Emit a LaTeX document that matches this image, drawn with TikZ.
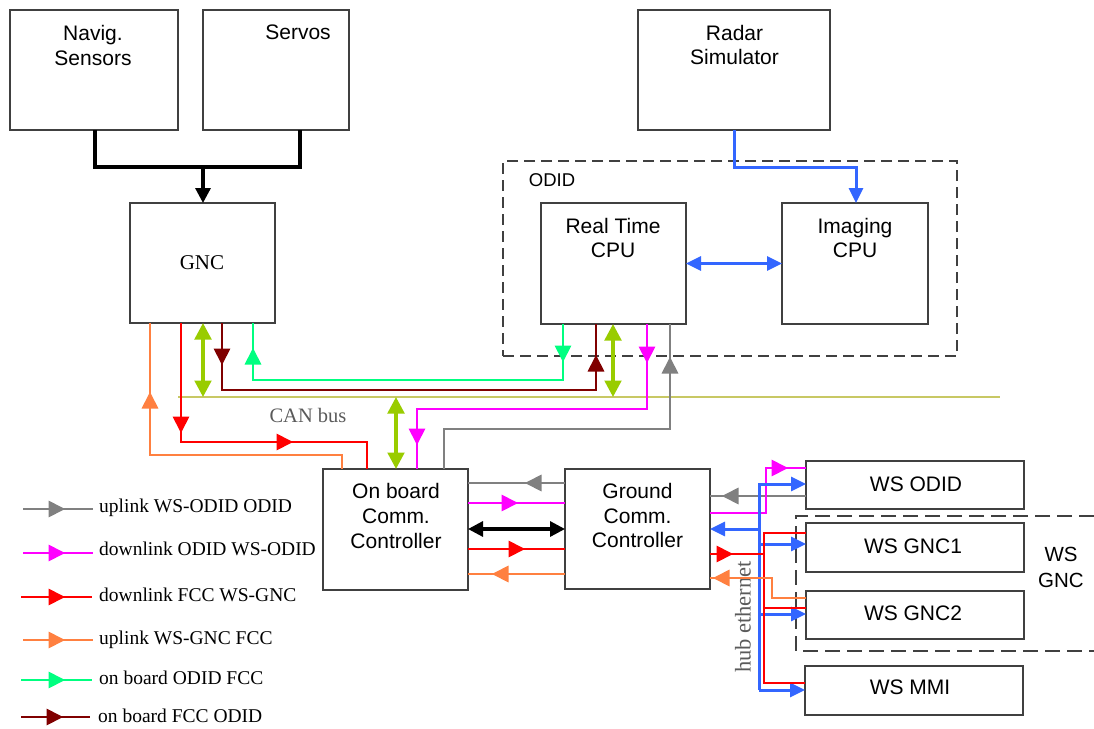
\documentclass[tikz,border=0pt]{standalone}
\usepackage{fontspec}
\setmainfont{Liberation Sans}
\newfontfamily\serifjf{Liberation Serif}
\usetikzlibrary{arrows.meta,decorations.markings}
\definecolor{cgray}{RGB}{128,128,128}
\definecolor{cmag}{RGB}{255,0,255}
\definecolor{cred}{RGB}{255,0,0}
\definecolor{cor}{RGB}{255,128,64}
\definecolor{cgreen}{RGB}{0,255,128}
\definecolor{cdred}{RGB}{128,0,0}
\definecolor{cyg}{RGB}{153,204,0}
\definecolor{cblu}{RGB}{51,102,255}
\definecolor{ccan}{RGB}{200,200,100}
\definecolor{boxc}{RGB}{64,64,64}
\definecolor{cantext}{RGB}{90,90,90}
\tikzset{
  tri/.tip={Triangle[length=16.5pt,width=16.5pt]},
  btri/.tip={Triangle[length=15pt,width=14pt]},
  ktri/.tip={Triangle[length=15pt,width=15pt]},
  fa/.style={postaction={decorate,decoration={markings,mark=at position #1 with {\arrow{tri}}}}},
  ra/.style={postaction={decorate,decoration={markings,mark=at position #1 with {\arrowreversed{tri}}}}},
  box/.style={draw=boxc, line width=2pt, fill=white, inner sep=0pt, outer sep=0pt},
  dbox/.style={draw=boxc, line width=2pt, dash pattern=on 11pt off 6pt},
  dbox2/.style={draw=boxc, line width=2pt, dash pattern=on 15pt off 7pt},
  sans/.style={font=\fontsize{21}{24.7}\selectfont, align=center, inner sep=0pt, text=black},
  leg/.style={font=\serifjf\fontsize{19.5}{22}\selectfont, inner sep=0pt, anchor=base west},
  lgray/.style={draw=cgray, line width=1.8pt},
  lmag/.style={draw=cmag, line width=1.8pt},
  lred/.style={draw=cred, line width=1.8pt},
  lor/.style={draw=cor, line width=1.8pt},
  lgreen/.style={draw=cgreen, line width=1.8pt},
  ldred/.style={draw=cdred, line width=1.8pt},
  lyg/.style={draw=cyg, line width=3.5pt},
  lblu/.style={draw=cblu, line width=3pt},
  lblk/.style={draw=black, line width=3.2pt},
}
\begin{document}
\begin{tikzpicture}[x=1pt,y=-1pt]
\useasboundingbox (0,0) rectangle (1094,728);
\fill[white] (0,0) rectangle (1094,728);

% dashed groups
\node[dbox, minimum width=454pt, minimum height=195pt, inner sep=0pt, outer sep=0pt] (odidbox) at (730,258.5) {};
\draw[dbox2] (1094,516) -- (796,516) -- (796,651) -- (1094,651);

% boxes
\node[box, minimum width=168pt, minimum height=120pt] (nav) at (94,70) {};
\node[box, minimum width=146pt, minimum height=120pt] (servos) at (276,70) {};
\node[box, minimum width=145pt, minimum height=120pt] (gnc) at (202.5,263) {};
\node[box, minimum width=192pt, minimum height=120pt] (radar) at (734,70) {};
\node[box, minimum width=145pt, minimum height=121pt] (rtcpu) at (613.5,263.5) {};
\node[box, minimum width=146pt, minimum height=121pt] (imgcpu) at (855,263.5) {};
\node[box, minimum width=145pt, minimum height=121pt] (onboard) at (395.5,529.5) {};
\node[box, minimum width=145pt, minimum height=120pt] (ground) at (637.5,529) {};
\node[box, minimum width=218pt, minimum height=48pt] (wsodid) at (915,485) {};
\node[box, minimum width=218pt, minimum height=49pt] (wsgnc1) at (915,547.5) {};
\node[box, minimum width=218pt, minimum height=48pt] (wsgnc2) at (915,615) {};
\node[box, minimum width=218pt, minimum height=49pt] (wsmmi) at (914,690.5) {};

% texts
\node[sans] (tnav) at (93,45.5) {Navig.\\Sensors};
\node[sans] (tservos) at (298,32.5) {Servos};
\node[sans] (tradar) at (734.5,45) {Radar\\Simulator};
\node[inner sep=0pt, font=\serifjf\fontsize{21}{24}\selectfont] (tgnc) at (202,262.5) {GNC};
\node[sans] (trt) at (613,238) {Real Time\\CPU};
\node[sans] (timg) at (855,238) {Imaging\\CPU};
\node[inner sep=0pt, font=\fontsize{18.5}{21}\selectfont] (todid) at (552,180.5) {ODID};
\node[sans] (tob) at (396,516) {On board\\Comm.\\Controller};
\node[sans] (tgr) at (637.5,515.5) {Ground\\Comm.\\Controller};
\node[sans] (twsodid) at (916,484) {WS ODID};
\node[sans] (twsg1) at (913,546.5) {WS GNC1};
\node[sans] (twsg2) at (913,613.5) {WS GNC2};
\node[sans] (twsmmi) at (910,687.5) {WS MMI};
\node[sans, font=\fontsize{20.5}{26}\selectfont] (twsgnc) at (1061,567) {WS\\GNC};
\node[inner sep=0pt, text=cantext, font=\serifjf\fontsize{20.5}{24}\selectfont] (tcan) at (308,415.5) {CAN bus};
\node[inner sep=0pt, rotate=90, text=cantext, font=\serifjf\fontsize{22.5}{24}\selectfont] (thub) at (743,617) {hub ethernet};

% top connectors
\coordinate (jnc) at (203,167);
\draw[lblk] (nav.south -| 95,0) -- (95,167) -| (servos.south -| 300,0);
\draw[lblk, -{ktri}] (jnc) -- (gnc.north -| jnc);
\draw[lblu, -{btri}] (radar.south) -- (734,167) -| (imgcpu.north -| 856,0);
\draw[lblu, {btri}-{btri}] (rtcpu.east) -- (imgcpu.west);

% CAN bus
\coordinate (canL) at (178,397);
\coordinate (canR) at (1000,397);
\draw[draw=ccan, line width=2.2pt] (canL) -- (canR);

% GNC links
\draw[lor, ra=69pt] (gnc.south -| 150,0) -- (150,455) -| (onboard.north -| 342,0);
\draw[lred, fa=110pt, fa=231pt] (gnc.south -| 181,0) -- (181,442) -| (onboard.north -| 367,0);
\draw[lyg, {tri}-{tri}] (gnc.south -| 203,0) -- (canL -| 203,0);
\draw[ldred, fa=42pt, fa=-31pt] (gnc.south -| 222,0) -- (222,390) -| (rtcpu.south -| 596,0);
\draw[lgreen, ra=25pt, ra=-38pt] (gnc.south -| 253,0) -- (253,380) -| (rtcpu.south -| 563,0);

% Real Time CPU links
\draw[lyg, {tri}-{tri}] (rtcpu.south -| 613,0) -- (canL -| 613,0);
\draw[lmag, fa=39pt, fa=-24pt] (rtcpu.south -| 647,0) -- (647,409) -| (onboard.north -| 417,0);
\draw[lgray, ra=33pt] (rtcpu.south -| 670,0) -- (670,429) -| (onboard.north -| 444,0);
\draw[lyg, {tri}-{tri}] (canL -| 396,0) -- (onboard.north -| 396,0);

% On board <-> Ground
\draw[lgray, fa=40pt] (ground.west |- 0,483) -- (onboard.east |- 0,483);
\draw[lmag, fa=50pt] (onboard.east |- 0,503) -- (ground.west |- 0,503);
\draw[lblk, {ktri}-{ktri}] (onboard.east |- 0,529) -- (ground.west |- 0,529);
\draw[lred, fa=57pt] (onboard.east |- 0,549) -- (ground.west |- 0,549);
\draw[lor, fa=73pt] (ground.west |- 0,574) -- (onboard.east |- 0,574);

% Ground <-> workstations
\draw[lgray, fa=84pt] (wsodid.west |- 0,496) -- (ground.east |- 0,496);
\draw[lmag, fa=-18pt] (ground.east |- 0,513) -- (766,513) |- (wsodid.west |- 0,468);
\coordinate (hubT) at (759,484);
\coordinate (hubB) at (759,690);
\draw[lblu, -{btri}] (hubB) -- (hubT) -- (wsodid.west |- hubT);
\draw[lblu, -{btri}] (hubT |- 0,529) -- (ground.east |- 0,529);
\draw[lblu, -{btri}] (hubT |- 0,544) -- (wsgnc1.west |- 0,544);
\draw[lblu, -{btri}] (hubT |- 0,614) -- (wsgnc2.west |- 0,614);
\draw[lblu, -{btri}] (hubB) -- (wsmmi.west |- hubB);
\draw[lred, fa=23pt] (ground.east |- 0,554) -- (764,554);
\draw[lred] (wsgnc1.west |- 0,533) -| (764,683) -- (wsmmi.west |- 0,683);
\draw[lred] (764,608) -- (wsgnc2.west |- 0,608);
\draw[lor, fa=-3pt] (wsgnc2.west |- 0,598) -| (772,578) -- (ground.east |- 0,578);

% legend
\node[leg] (lg1) at (99,512) {uplink WS-ODID ODID};
\node[leg] (lg2) at (99,555) {downlink ODID WS-ODID};
\node[leg] (lg3) at (99,601) {downlink FCC WS-GNC};
\node[leg] (lg4) at (99,644) {uplink WS-GNC FCC};
\node[leg] (lg5) at (99,684) {on board ODID FCC};
\node[leg] (lg6) at (98,722) {on board FCC ODID};
\draw[lgray, fa=42pt] (23,509) -- (93,509);
\draw[lmag, fa=42pt] (23,553) -- (93,553);
\draw[lred, fa=44pt] (21,597) -- (92,597);
\draw[lor, fa=42pt] (23,640) -- (93,640);
\draw[lgreen, fa=44pt] (21,680) -- (92,680);
\draw[ldred, fa=42pt] (21,717) -- (90,717);
\end{tikzpicture}
\end{document}
